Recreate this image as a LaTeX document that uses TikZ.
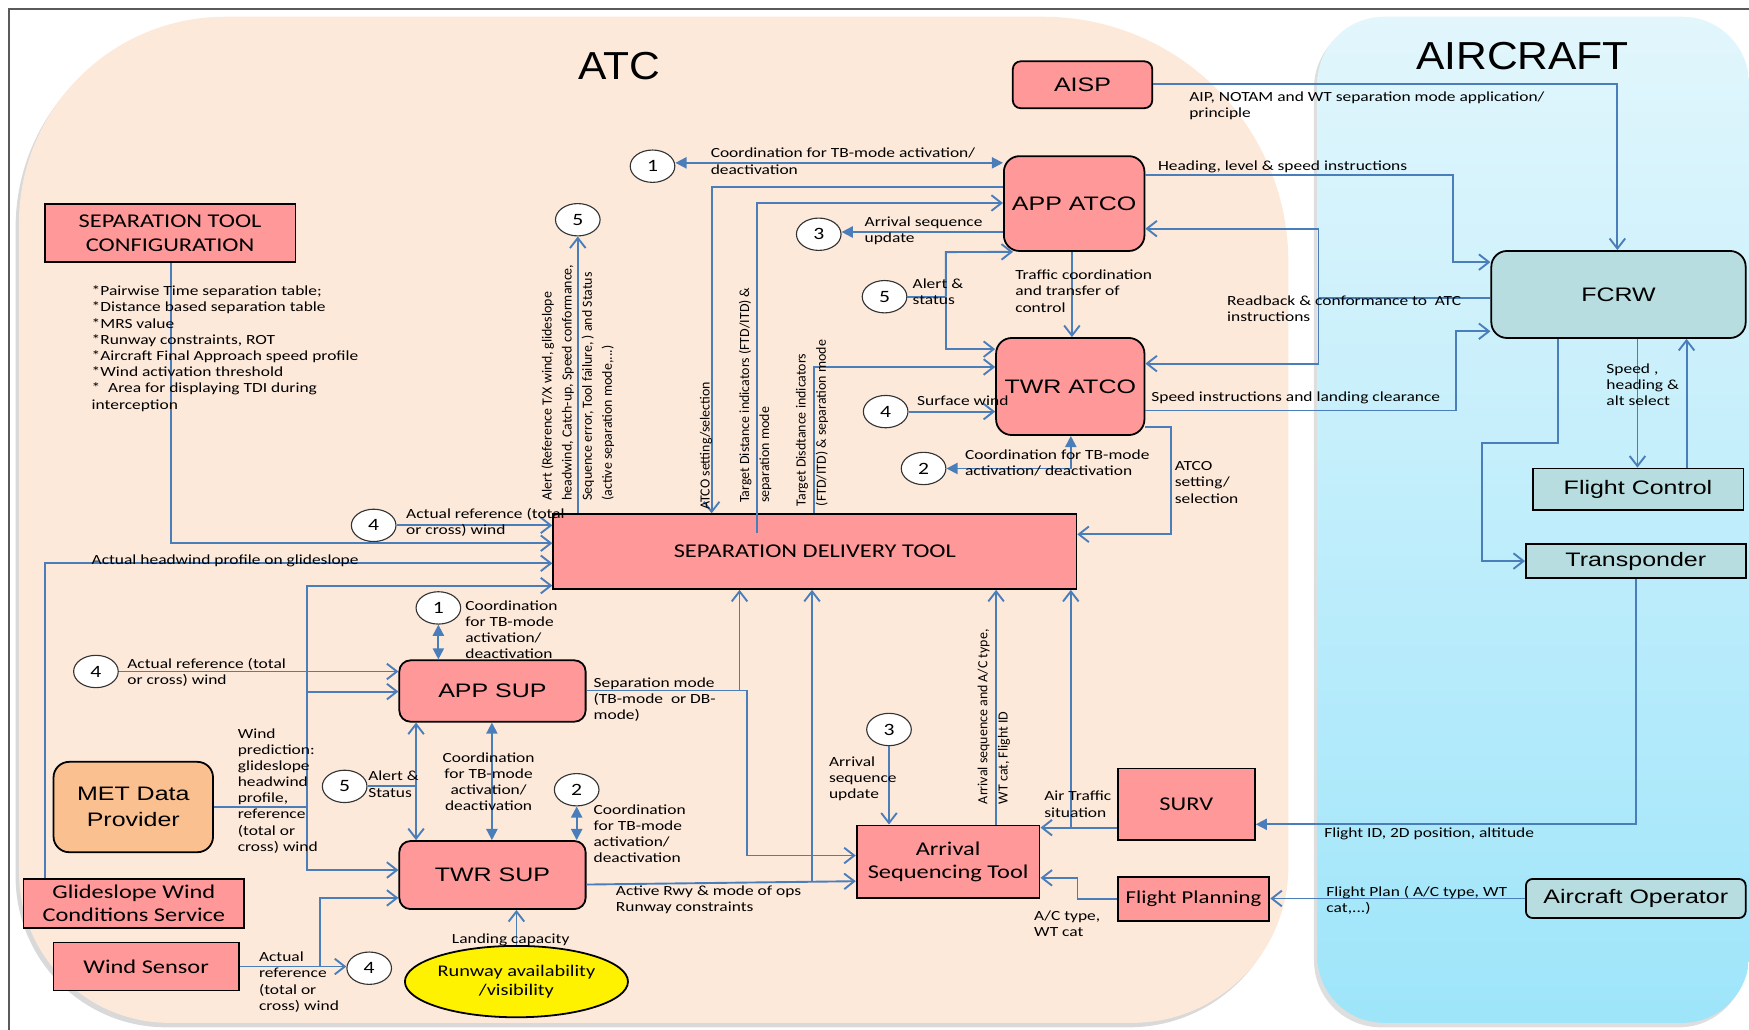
\documentclass[tikz,border=0pt]{standalone}
\usepackage{fontspec}
\usetikzlibrary{arrows.meta,shapes.geometric,calc}

% fonts: Calibri-like labels, Arial-like box captions
\newfontfamily\labfont[FakeStretch=1.25]{Carlito}
\newfontfamily\rotfont{Carlito}
\newfontfamily\arialfont[FakeStretch=1.28]{Liberation Sans}
\newfontfamily\calfont[FakeStretch=1.25]{Carlito}
\newfontfamily\titlefont[FakeStretch=1.09]{Liberation Sans}

\definecolor{peach}{RGB}{253,233,218}
\definecolor{skytop}{RGB}{226,246,252}
\definecolor{skybot}{RGB}{158,229,250}
\definecolor{flow}{RGB}{74,126,187}
\definecolor{pinkbox}{RGB}{255,153,153}
\definecolor{tealbox}{RGB}{183,221,224}
\definecolor{metbox}{RGB}{250,192,144}
\definecolor{framegray}{RGB}{90,90,90}

\begin{document}
\begin{tikzpicture}[x=1pt,y=-1pt,
  ln/.style={draw=flow,line width=1.7pt},
  oa/.style={ln,-{Straight Barb[length=9pt,width=14pt]}},
  oa2/.style={ln,{Straight Barb[length=9pt,width=14pt]}-{Straight Barb[length=9pt,width=14pt]}},
  fa/.style={ln,-{Triangle[length=10pt,width=10pt]}},
  fa2/.style={ln,{Triangle[length=10pt,width=10pt]}-{Triangle[length=10pt,width=10pt]}},
  boxbase/.style={draw=black,line width=1.6pt,inner sep=0pt,align=center,text=black},
  pbox/.style={boxbase,fill=pinkbox,font=\calfont\fontsize{17.5}{21}\selectfont},
  pabox/.style={boxbase,fill=pinkbox,rounded corners=12pt,font=\arialfont\fontsize{17.5}{23}\selectfont},
  tbox/.style={boxbase,fill=tealbox,font=\arialfont\fontsize{17.5}{21}\selectfont},
  circ/.style={ellipse,draw=black!80,line width=1pt,fill=white,minimum width=40pt,minimum height=29pt,inner sep=0pt,font=\calfont\fontsize{15.5}{18}\selectfont},
  lbl/.style={font=\labfont\fontsize{12.5}{14.5}\selectfont,align=left,anchor=west,inner sep=0pt,text=black},
  rlbl/.style={font=\rotfont\fontsize{12.5}{18}\selectfont,align=left,anchor=west,rotate=90,inner sep=0pt,text=black},
  ttl/.style={font=\titlefont\fontsize{35}{40}\selectfont,text=black,inner sep=0pt}
]
\useasboundingbox (0,0) rectangle (1568,923);
\clip (0,0) rectangle (1568,923);
\fill[white] (0,0) rectangle (1568,923);

% ---------- domains ----------
\begin{scope}[shift={(-3,4)}]
  \fill[black,opacity=.15] (17,500) [rounded corners=185pt] -- (17,15) -- (600,15) [rounded corners=220pt] -- (1155,15) -- (1155,500) [rounded corners=140pt] -- (1155,917) -- (600,917) [rounded corners=135pt] -- (17,917) -- cycle;
  \fill[black,opacity=.13,rounded corners=60pt] (1181,15) rectangle (1568,917);
\end{scope}
\fill[peach] (17,500) [rounded corners=185pt] -- (17,15) -- (600,15) [rounded corners=220pt] -- (1155,15) -- (1155,500) [rounded corners=140pt] -- (1155,917) -- (600,917) [rounded corners=135pt] -- (17,917) -- cycle;
\shade[top color=skytop,bottom color=skybot,rounded corners=60pt] (1181,15) rectangle (1568,917);
\draw[framegray,line width=1.3pt] (8,940) -- (8,8) -- (1580,8);

\node[ttl] (atc) at (555,59) {ATC};
\node[ttl] (aircraft) at (1365,50) {AIRCRAFT};

% ---------- ATC side ----------
\node[pbox,minimum width=225pt,minimum height=52pt] (stc) at (152.5,209) {SEPARATION TOOL\\CONFIGURATION};
\node[pbox,minimum width=469pt,minimum height=67pt] (sdt) at (730.5,494.5) {SEPARATION DELIVERY TOOL};
\node[pabox,rounded corners=7pt,minimum width=125pt,minimum height=42pt] (aisp) at (970.5,76) {AISP};
\node[pabox,rounded corners=14pt,minimum width=126pt,minimum height=85pt] (appatco) at (963,182.5) {APP ATCO};
\node[pabox,rounded corners=14pt,minimum width=133pt,minimum height=87pt] (twratco) at (959.5,346.5) {TWR ATCO};
\node[pabox,rounded corners=10pt,minimum width=167pt,minimum height=55pt] (appsup) at (441.5,619.5) {APP SUP};
\node[pabox,rounded corners=10pt,minimum width=167pt,minimum height=61pt] (twrsup) at (441.5,784.5) {TWR SUP};
\node[pabox,fill=metbox,rounded corners=14pt,minimum width=143pt,minimum height=81pt] (met) at (119.5,723.5) {MET Data\\Provider};
\node[pbox,minimum width=198pt,minimum height=44pt] (gwcs) at (120,810) {Glideslope Wind\\Conditions Service};
\node[pbox,minimum width=166pt,minimum height=43pt] (wsens) at (131,866.5) {Wind Sensor};
\node[ellipse,draw=black,line width=1.6pt,fill=yellow,minimum width=150pt,minimum height=64pt,inner sep=0pt,align=center,font=\calfont\fontsize{14.6}{17}\selectfont] (rway) at (463,880) {Runway availability\\/visibility};
\node[pbox,minimum width=164pt,minimum height=65pt] (ast) at (850,772.5) {Arrival\\Sequencing Tool};
\node[pbox,minimum width=123pt,minimum height=64pt] (surv) at (1063.5,721) {SURV};
\node[pbox,minimum width=136pt,minimum height=40pt,font=\calfont\fontsize{16.3}{20}\selectfont] (fplan) at (1070,806) {Flight Planning};

% ---------- aircraft side ----------
\node[tbox,rounded corners=14pt,minimum width=228pt,minimum height=78pt] (fcrw) at (1451,264) {FCRW};
\node[tbox,minimum width=189pt,minimum height=37pt] (fctrl) at (1468.5,438.5) {Flight Control};
\node[tbox,minimum width=197pt,minimum height=30pt] (trans) at (1466.5,503) {Transponder};
\node[tbox,rounded corners=6pt,minimum width=197pt,minimum height=35pt] (acop) at (1466.5,805.5) {Aircraft Operator};

% ---------- numbered references ----------
\node[circ] (c1a) at (585,149) {1};
\node[circ] (c5a) at (518,197) {5};
\node[circ] (c3a) at (734,210) {3};
\node[circ] (c5b) at (793,266) {5};
\node[circ] (c4a) at (794,369) {4};
\node[circ] (c2a) at (828,420) {2};
\node[circ] (c4b) at (335,471) {4};
\node[circ] (c1b) at (393,545) {1};
\node[circ] (c4c) at (86,602) {4};
\node[circ] (c5c) at (309,705) {5};
\node[circ] (c2b) at (517,708) {2};
\node[circ] (c3b) at (797,654) {3};
\node[circ] (c4d) at (331,868) {4};

% ---------- junctions ----------
\coordinate (tdistart) at (679,478);
\coordinate (alertj) at (848,266);
\coordinate (rbj) at (1182,267);
\coordinate (atj) at (960,742);
\coordinate (smj) at (663,619);
\coordinate (rwyj) at (728,791);
\coordinate (metj) at (275,723.5);
\coordinate (metapp) at (275,620);
\coordinate (wsj) at (287,866.5);
\coordinate (alsupj) at (373,705);

% ---------- connectors: ATCO level ----------
\draw[fa2] (c1a.east|-0,146) -- (appatco.west|-0,146);
\draw[oa] (appatco.west|-0,168) -- (638,168) -- (sdt.north-|638,0);
\draw[oa] (tdistart) -- (679,182) -- (appatco.west|-0,182);
\draw[oa] (sdt.north-|730,0) -- (730,329) -- (twratco.west|-0,329);
\draw[oa] (sdt.north-|518,0) -- (c5a.south);
\draw[fa] (appatco.west|-0,208) -- (c3a.east|-0,208);
\draw[ln] (c5b.east) -- (alertj);
\draw[oa] (alertj) -- (848,226) -- ($(appatco.south west)+(9,0)$);
\draw[oa] (alertj) -- (848,313) -- (twratco.west|-0,313);
\draw[oa] (appatco.south-|961,0) -- (twratco.north-|961,0);
\draw[oa] (c4a.east) -- (twratco.west|-c4a.east);
\draw[fa2] (c2a.east) -- (960,420) -- (twratco.south-|960,0);
\draw[oa] (twratco.east|-0,383) -- (1050,383) -- (1050,479) -- (sdt.east|-0,479);

% ---------- connectors: to and from the aircraft ----------
\draw[oa] (aisp.east|-0,75) -- (1450,75) -- (fcrw.north-|1450,0);
\draw[oa] (appatco.east|-0,157) -- (1303,157) -- (1303,235) -- (fcrw.west|-0,235);
\draw[ln] (fcrw.west|-0,267) -- (rbj);
\draw[oa] (rbj) -- (1182,205) -- (appatco.east|-0,205);
\draw[oa] (rbj) -- (1182,326) -- (twratco.east|-0,326);
\draw[oa] (twratco.east|-0,368) -- (1305,368) -- (1305,297) -- (fcrw.west|-0,297);
\draw[oa] (fcrw.south-|1468,0) -- (fctrl.north-|1468,0);
\draw[oa] (fctrl.north-|1512,0) -- (fcrw.south-|1512,0);
\draw[oa] (fcrw.south-|1397,0) -- (1397,397) -- (1329,397) -- (1329,503) -- (trans.west);
\draw[fa] (trans.south-|1467,0) -- (1467,739) -- (surv.east|-0,739);
\draw[oa] (acop.west) -- (fplan.east|-acop.west);

% ---------- connectors: sequencing ----------
\draw[oa] (fplan.west) -- (966,806) -- (966,787) -- (ast.east|-0,787);
\draw[oa] (surv.west|-atj) -- (ast.east|-atj);
\draw[oa] (atj) -- (sdt.south-|atj);
\draw[oa] (ast.north-|893,0) -- (sdt.south-|893,0);
\draw[oa] (c3b.south) -- (ast.north-|c3b.south);
\draw[oa] (appsup.east|-smj) -- (670,619) -- (670,767) -- (ast.west|-0,767);
\draw[oa] (smj) -- (sdt.south-|smj);
\draw[oa] (twrsup.east|-0,793) -- (ast.west|-0,790);
\draw[oa] (rwyj) -- (sdt.south-|rwyj);

% ---------- connectors: supervisors ----------
\draw[fa2] (c1b.south) -- (appsup.north-|c1b.south);
\draw[fa2] (c2b.south) -- (twrsup.north-|c2b.south);
\draw[fa2] (appsup.south-|441,0) -- (twrsup.north-|441,0);
\draw[oa2] (appsup.south-|alsupj) -- (twrsup.north-|alsupj);
\draw[ln] (c5c.east) -- (alsupj);
\draw[oa] (c4c.east) -- (appsup.west|-c4c.east);
\draw[ln] (met.east) -- (metj);
\draw[oa] (metj) -- (275,525) -- (sdt.west|-0,525);
\draw[oa] (metj) -- (275,780) -- (twrsup.west|-0,780);
\draw[oa] (metapp) -- (appsup.west|-metapp);
\draw[oa] (wsens.east) -- (c4d.west|-wsens.east);
\draw[oa] (wsj) -- (287,805) -- (twrsup.west|-0,805);
\draw[oa] (gwcs.north-|40,0) -- (40,505) -- (sdt.west|-0,505);
\draw[oa] (stc.south-|153,0) -- (153,487) -- (sdt.west|-0,487);
\draw[oa] (c4b.east) -- (sdt.west|-c4b.east);
\draw[oa] (rway.north) -- (twrsup.south-|rway.north);

% ---------- labels ----------
\node[lbl] (cfgtext) at (82,312.5) {*Pairwise Time separation table;\\{}*Distance based separation table\\{}*MRS value\\{}*Runway constraints, ROT\\{}*Aircraft Final Approach speed profile\\{}*Wind activation threshold\\{}*\ \ Area for displaying TDI during\\interception};
\node[lbl] (l1a) at (637,144.5) {Coordination for TB-mode activation/\\deactivation};
\node[lbl] (laip) at (1066,95) {AIP, NOTAM and WT separation mode application/\\principle};
\node[lbl] (lhead) at (1038,150) {Heading, level \& speed instructions};
\node[lbl] (l3a) at (775,207) {Arrival sequence\\update};
\node[lbl] (l5b) at (818,261.5) {Alert \&\\status};
\node[lbl] (ltraf) at (910,261) {Traffic coordination\\and transfer of\\control};
\node[lbl] (lread) at (1100,277) {Readback \& conformance to\ \ ATC\\instructions};
\node[lbl] (lsurf) at (822,359) {Surface wind};
\node[lbl] (lspd) at (1032,357) {Speed instructions and landing clearance};
\node[lbl] (l2a) at (865,415) {Coordination for TB-mode\\activation/ deactivation};
\node[lbl] (lset) at (1053,432.5) {ATCO\\setting/\\selection};
\node[lbl] (lfc) at (1440,345) {Speed ,\\heading \&\\alt select};
\node[lbl] (l4b) at (364,468) {Actual reference (total\\or cross) wind};
\node[lbl] (lgws) at (82,502.5) {Actual headwind profile on glideslope};
\node[lbl] (l1b) at (417,564.5) {Coordination\\for TB-mode\\activation/\\deactivation};
\node[lbl] (l4c) at (114,603) {Actual reference (total\\or cross) wind};
\node[lbl] (lsep) at (532,627) {Separation mode\\(TB-mode\ \ or DB-\\mode)};
\node[lbl] (lmet) at (213,709) {Wind\\prediction:\\glideslope\\headwind\\profile,\\reference\\(total or\\cross) wind};
\node[lbl] (l5c) at (330,703) {Alert \&\\Status};
\node[lbl,anchor=center,align=center] (lmid) at (438,701) {Coordination\\for TB-mode\\activation/\\deactivation};
\node[lbl] (l2b) at (532,747.5) {Coordination\\for TB-mode\\activation/\\deactivation};
\node[lbl] (l3b) at (743,698) {Arrival\\sequence\\update};
\node[lbl] (latr) at (936,721) {Air Traffic\\situation};
\node[lbl] (lfid) at (1187,748) {Flight ID, 2D position, altitude};
\node[lbl] (lrwy) at (552,807) {Active Rwy \& mode of ops\\Runway constraints};
\node[lbl] (lact) at (927,828) {A/C type,\\WT cat};
\node[lbl] (lfpl) at (1189,807) {Flight Plan ( A/C type, WT\\cat,...)};
\node[lbl] (lland) at (405,843) {Landing capacity};
\node[lbl] (l4d) at (232,880.5) {Actual\\reference\\(total or\\cross) wind};

% rotated labels along the vertical flows
\node[rlbl] (ralert) at (518,449) {Alert (Reference T/X wind, glideslope\\headwind, Catch-up, Speed conformance,\\Sequence error, Tool failure, ) and Status\\(active separation mode,...)};
\node[rlbl] (rset) at (633,457) {ATCO setting/selection};
\node[rlbl] (rtdi) at (677,451) {Target Distance indicators (FTD/ITD) \&\\separation mode};
\node[rlbl] (rtdi2) at (728,454) {Target Disdtance indicators\\(FTD/ITD) \& separation mode};
\node[rlbl] (rseq) at (891,721) {Arrival sequence and A/C type,\\WT cat, Flight ID};
\end{tikzpicture}
\end{document}
